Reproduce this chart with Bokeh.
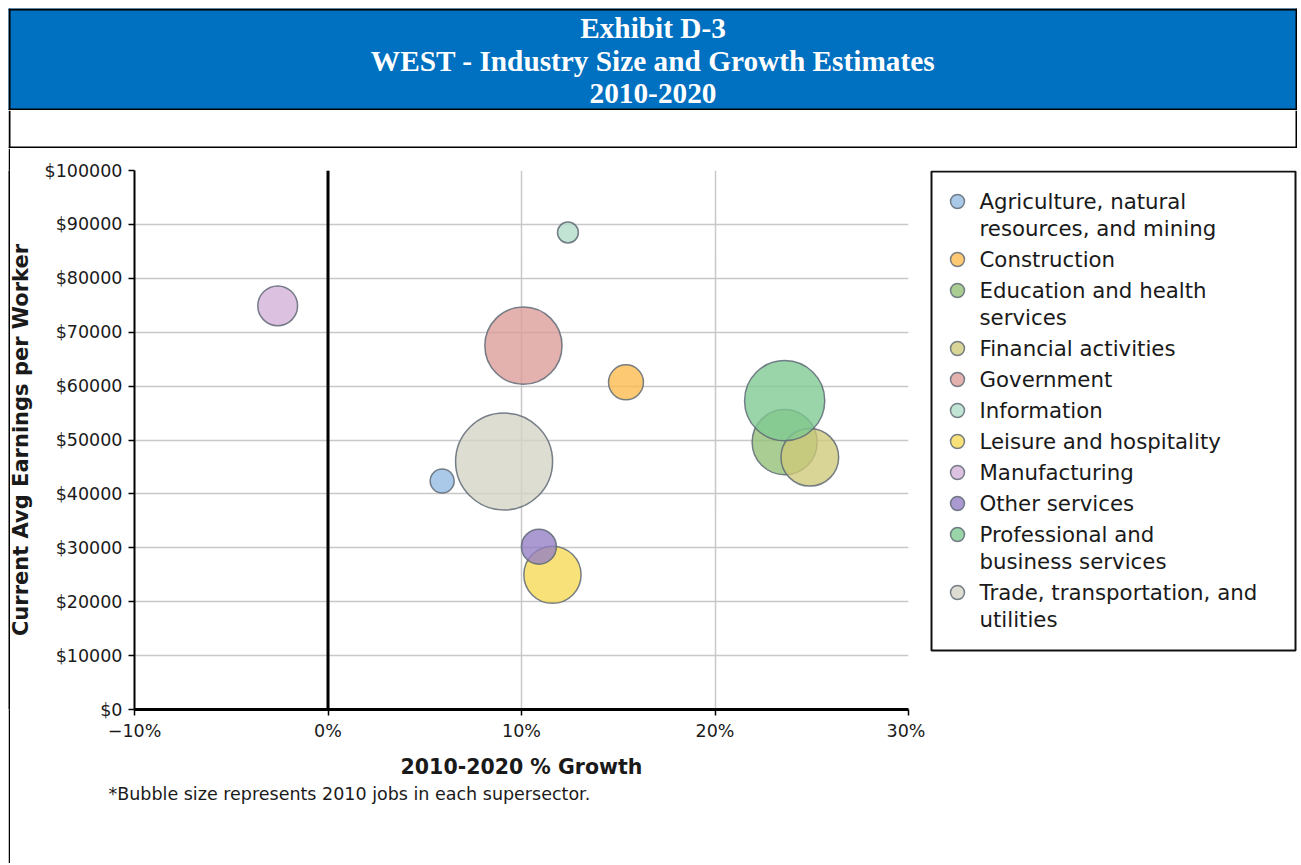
import math
from bokeh.plotting import figure
from bokeh.models import Range1d, FixedTicker, Span, Title, ColumnDataSource
from bokeh.layouts import column, row
from bokeh.embed import file_html
from bokeh.resources import INLINE
from bokeh.core.properties import value

# ---------------- data ----------------
industries = [
    "Agriculture, natural resources, and mining",
    "Construction",
    "Education and health services",
    "Financial activities",
    "Government",
    "Information",
    "Leisure and hospitality",
    "Manufacturing",
    "Other services",
    "Professional and business services",
    "Trade, transportation, and utilities",
]
legend_lines = [
    ["Agriculture, natural", "resources, and mining"],
    ["Construction"],
    ["Education and health", "services"],
    ["Financial activities"],
    ["Government"],
    ["Information"],
    ["Leisure and hospitality"],
    ["Manufacturing"],
    ["Other services"],
    ["Professional and", "business services"],
    ["Trade, transportation, and", "utilities"],
]
growth_pct = [5.9, 15.4, 23.6, 24.9, 10.1, 12.4, 11.6, -2.6, 10.9, 23.6, 9.1]
avg_earnings = [42400, 60700, 49600, 46800, 67500, 88500, 25000, 74900, 30200, 57300, 46000]
jobs_2010_k = [330, 700, 2430, 1910, 3420, 250, 1880, 910, 700, 3690, 5400]
colors = ["#92BAE2", "#FCBA4C", "#92BF74", "#CEC979", "#DC9C97", "#B0DDC9",
          "#F7D855", "#D3B0D8", "#927EC4", "#7EC992", "#D3D3C4"]

x_ticks = [-10, 0, 10, 20, 30]
x_tick_labels = ["\u221210%", "0%", "10%", "20%", "30%"]
y_ticks = [0, 10000, 20000, 30000, 40000, 50000, 60000, 70000, 80000, 90000, 100000]
y_tick_labels = ["$0", "$10000", "$20000", "$30000", "$40000", "$50000",
                 "$60000", "$70000", "$80000", "$90000", "$100000"]

title_lines = ["Exhibit D-3", "WEST - Industry Size and Growth Estimates", "2010-2020"]
x_title = "2010-2020 % Growth"
y_title = "Current Avg Earnings per Worker"
footnote = "*Bubble size represents 2010 jobs in each supersector."

# ---------------- styles ----------------
W = 1289
SANS = "DejaVu Sans"
SERIF = "Liberation Serif"
TXT = "#1a1a1a"
R_MAX = 48.5
FILL_ALPHA = 0.78
OUTLINE = "#5f6a76"


def blank(w, h, bg="white", **kw):
    f = figure(width=w, height=h, toolbar_location=None, output_backend="svg",
               x_axis_location=None, y_axis_location=None, **kw)
    f.grid.visible = False
    f.outline_line_color = None
    f.background_fill_color = bg
    f.border_fill_color = bg
    return f


# header
HH = 102
hdr = blank(W, HH, "#0070C0", min_border=0,
            x_range=Range1d(0, W), y_range=Range1d(HH, 0))
hdr.text(x=[W / 2] * 3, y=[19, 52, 85], text=title_lines, text_font=value(SERIF),
         text_font_style="bold", text_font_size=value("29.3px"), text_color="white",
         text_align="center", text_baseline="middle")
hdr.multi_line(xs=[[1, 1], [W - 1, W - 1], [0, W], [0, W]],
               ys=[[0, HH], [0, HH], [1, 1], [HH - 1, HH - 1]],
               line_color="black", line_width=2)

# blank row
SH = 38
sub = blank(W, SH, min_border=0, x_range=Range1d(0, W), y_range=Range1d(SH, 0))
sub.multi_line(xs=[[1, 1], [W - 1, W - 1], [0, W]],
               ys=[[0, SH], [0, SH], [SH - 1, SH - 1]],
               line_color="black", line_width=2)

# main chart
MH = 715
BT, BB = 22, 154
FH = MH - BT - BB
LINE_W = 2
YT_W = 28
MAIN_W = 887
p = figure(width=MAIN_W, height=MH, x_range=Range1d(-10, 30), y_range=Range1d(0, 100000),
           toolbar_location=None, output_backend="svg",
           min_border_left=96, min_border_right=17, min_border_top=BT, min_border_bottom=BB)
p.outline_line_color = None
p.background_fill_color = "white"
p.border_fill_color = "white"

max_jobs = max(jobs_2010_k)
sizes = [2 * R_MAX * math.sqrt(j / max_jobs) for j in jobs_2010_k]
src = ColumnDataSource(dict(x=growth_pct, y=avg_earnings, size=sizes, color=colors, name=industries))

p.xaxis.ticker = FixedTicker(ticks=x_ticks)
p.xaxis.major_label_overrides = dict(zip(x_ticks, x_tick_labels))
p.yaxis.ticker = FixedTicker(ticks=y_ticks)
p.yaxis.major_label_overrides = dict(zip(y_ticks, y_tick_labels))
p.grid.grid_line_color = "#c8c8c8"
p.grid.grid_line_width = 1.5
p.axis.minor_tick_line_color = None
p.axis.major_tick_in = 0
p.axis.major_tick_out = 6
p.axis.major_tick_line_color = "black"
p.axis.major_tick_line_width = 1.5
p.axis.axis_line_color = "black"
p.yaxis.axis_line_width = 2
p.xaxis.axis_line_width = 3
p.axis.major_label_text_font = SANS
p.axis.major_label_text_font_size = "17.5px"
p.axis.major_label_text_color = TXT
p.yaxis.major_label_standoff = 6
p.xaxis.major_label_standoff = 5
p.xaxis.axis_label = x_title
p.xaxis.axis_label_text_font = SANS
p.xaxis.axis_label_text_font_style = "bold"
p.xaxis.axis_label_text_font_size = "20.5px"
p.xaxis.axis_label_text_color = TXT
p.xaxis.axis_label_standoff = 11

p.add_layout(Span(location=0, dimension="height", line_color="black", line_width=3))

p.scatter("x", "y", size="size", fill_color="color", fill_alpha=FILL_ALPHA,
          line_color=OUTLINE, line_alpha=0.85, line_width=1.5, source=src)

p.add_layout(Title(text=footnote, align="left", offset=-26, standoff=0,
                   text_font=SANS, text_font_size="17.5px", text_font_style="normal",
                   text_color=TXT), "below")

# y-axis title panel (1 unit = 1 px, y down from frame top)
yt = blank(YT_W, MH, min_border_top=BT, min_border_bottom=BB, min_border_left=0,
           min_border_right=0, x_range=Range1d(0, YT_W), y_range=Range1d(FH, 0))
yt.text(x=[10.5], y=[FH / 2], text=[y_title], angle=math.pi / 2,
        text_font=value(SANS), text_font_style="bold", text_font_size=value("21px"),
        text_color=TXT, text_align="center", text_baseline="middle")

# legend panel
LW = 372
leg = blank(LW, MH, min_border_top=BT, min_border_bottom=BB, min_border_left=0,
            min_border_right=0, x_range=Range1d(0, LW), y_range=Range1d(FH, 0))
leg.quad(left=[6], right=[LW - 2], top=[1], bottom=[480], fill_color=None,
         line_color="#111111", line_width=2)
mx, my, tx, ty, tt = [], [], [], [], []
y = 31
for lines in legend_lines:
    mx.append(32)
    my.append(y)
    for k, s in enumerate(lines):
        tx.append(54)
        ty.append(y + 27 * k)
        tt.append(s)
    y += 27 * len(lines) + 4
leg.scatter(mx, my, size=14, fill_color=colors, fill_alpha=FILL_ALPHA,
            line_color=OUTLINE, line_alpha=0.85, line_width=1.5)
leg.text(x=tx, y=ty, text=tt, text_font=value(SANS), text_font_size=value("21.3px"),
         text_color=TXT, text_baseline="middle", text_align="left")

# left border of the chart area
lf = blank(LINE_W, MH, "black", min_border=0)

layout = column(hdr, sub, row(lf, yt, p, leg), margin=(8, 0, 0, 8))
open("out.html", "w").write(file_html(layout, INLINE))
